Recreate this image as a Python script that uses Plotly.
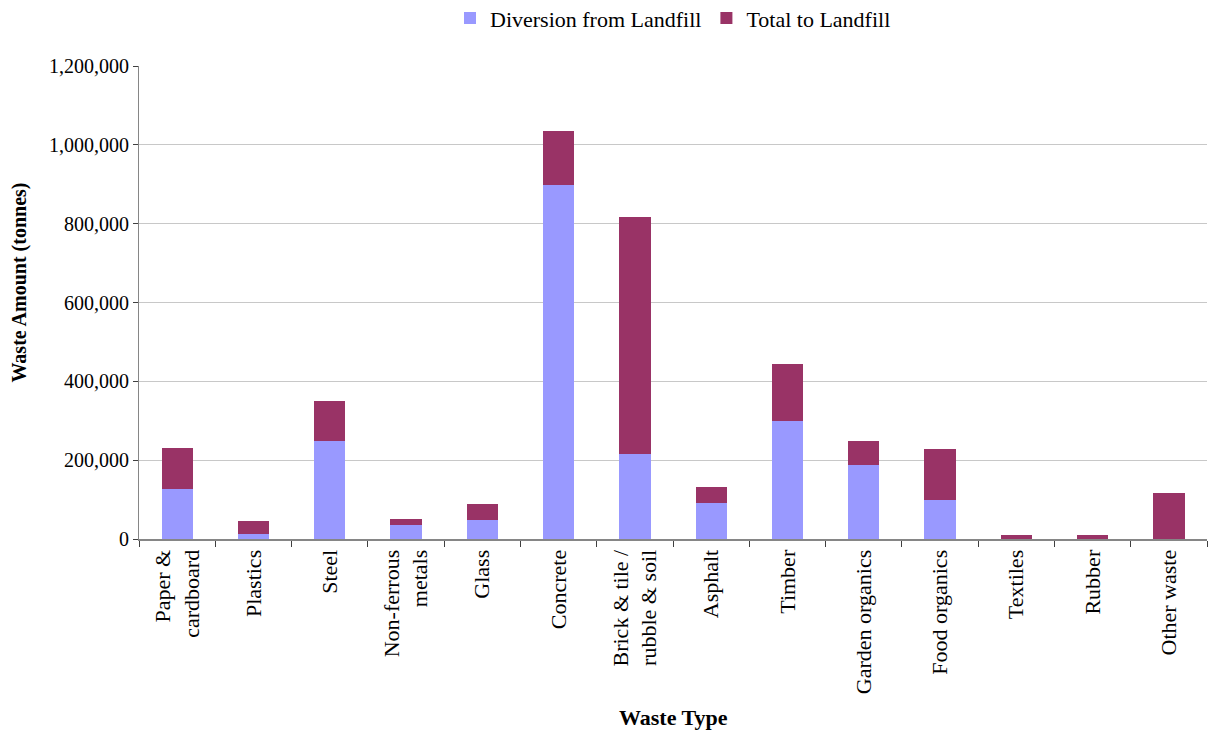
import plotly.graph_objects as go

# Waste types (x categories)
categories = [
    "Paper &<br>cardboard", "Plastics", "Steel", "Non-ferrous<br>metals", "Glass",
    "Concrete", "Brick & tile /<br>rubble & soil", "Asphalt", "Timber",
    "Garden organics", "Food organics", "Textiles", "Rubber", "Other waste",
]

# Tonnes diverted from landfill
diversion = [127000, 13000, 248000, 36000, 48000, 897000, 216000,
             91000, 299000, 187000, 99000, 0, 0, 0]

# Tonnes sent to landfill (stacked on top of diversion)
landfill = [104000, 33000, 101000, 15000, 41000, 138000, 600000,
            41000, 144000, 61000, 129000, 10000, 10000, 117000]

y_ticks = [0, 200000, 400000, 600000, 800000, 1000000, 1200000]

FONT = "Liberation Serif"
AXIS_COLOR = "#868686"

fig = go.Figure()
fig.add_trace(go.Bar(x=categories, y=diversion, name="Diversion from Landfill",
                     marker=dict(color="#9999FF", line=dict(width=0))))
fig.add_trace(go.Bar(x=categories, y=landfill, name="Total to Landfill",
                     marker=dict(color="#993366", line=dict(width=0))))

fig.update_layout(
    barmode="stack",
    bargap=0.59,
    width=1214, height=730,
    margin=dict(l=139, r=7, t=66, b=191),
    paper_bgcolor="white", plot_bgcolor="white",
    font=dict(family=FONT, size=20, color="black"),
    showlegend=True,
    legend=dict(orientation="h", xref="paper", x=0.5, xanchor="center",
                yref="container", y=0.975, yanchor="middle",
                traceorder="normal", font=dict(size=22, family=FONT),
                itemwidth=30, bgcolor="rgba(0,0,0,0)"),
    xaxis=dict(
        type="category", tickangle=-90, tickson="boundaries",
        ticks="outside", ticklen=6, tickcolor="#404040", tickwidth=1,
        showline=True, linecolor=AXIS_COLOR, linewidth=2,
        showgrid=False, automargin=False,
        tickfont=dict(family=FONT, size=22),
    ),
    yaxis=dict(
        range=[0, 1200000], tickvals=y_ticks,
        tickformat=",d",
        ticks="outside", ticklen=5, tickcolor="#404040", tickwidth=1,
        showline=True, linecolor=AXIS_COLOR, linewidth=1,
        showgrid=True, gridcolor="#C8C8C8", gridwidth=1,
        zeroline=False, automargin=False,
        tickfont=dict(family=FONT, size=20),
    ),
    annotations=[
        dict(text="<b>Waste Type</b>", xref="paper", yref="paper",
             x=0.5, y=-0.378, xanchor="center", yanchor="middle",
             showarrow=False, font=dict(family=FONT, size=22)),
        dict(text="<b>Waste Amount (tonnes)</b>", xref="paper", yref="paper",
             x=-0.112, y=0.543, xanchor="center", yanchor="middle", textangle=-90,
             showarrow=False, font=dict(family=FONT, size=20)),
    ],
)

fig.write_html("out.html")
